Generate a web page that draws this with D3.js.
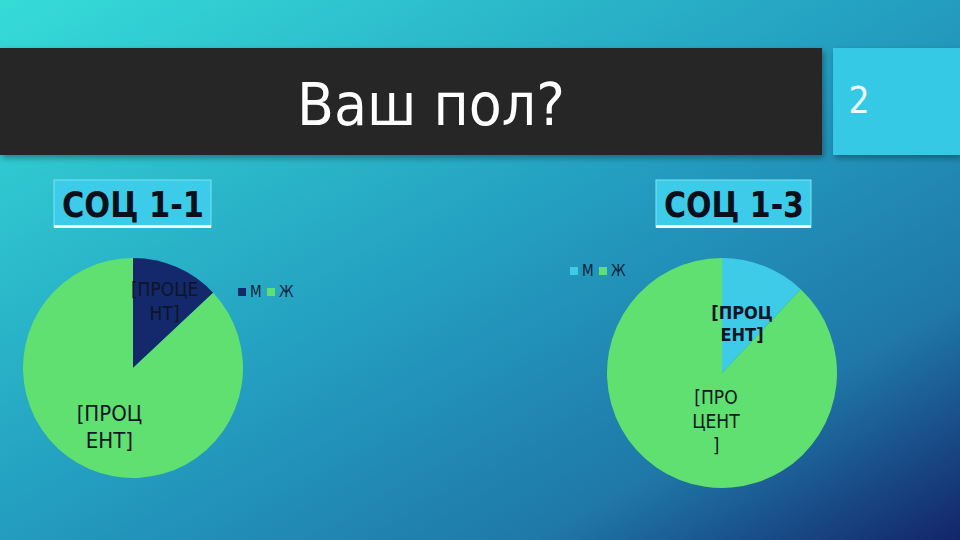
<!DOCTYPE html>
<html>
<head>
<meta charset="utf-8">
<style>
  body { margin: 0; background: #1f9fc0; }
  svg { display: block; }
  .narrow { font-family: "Liberation Sans Narrow", "DejaVu Sans Condensed", sans-serif; }
</style>
</head>
<body>
<svg class="slide"></svg>
<script src="https://d3js.org/d3.v7.min.js"></script>
<script>
// data
const categories = ["М", "Ж"];
const soc11 = [13, 87];
const soc13 = [12, 88];
// label text as wrapped in the picture
const soc11Labels = [["[ПРОЦЕ", "НТ]"], ["[ПРОЦ", "ЕНТ]"]];
const soc13Labels = [["[ПРОЦ", "ЕНТ]"], ["[ПРО", "ЦЕНТ", "]"]];

let width = 960, height = 540;
let svg = d3.select(".slide").attr("width", width).attr("height", height);

let defs = svg.append("defs");
let bg = defs.append("linearGradient").attr("id", "bg")
    .attr("x1", 0).attr("y1", 0).attr("x2", 1).attr("y2", 1);
bg.append("stop").attr("offset", 0).attr("stop-color", "#35dcd8");
bg.append("stop").attr("offset", 0.5).attr("stop-color", "#239cbf");
bg.append("stop").attr("offset", 0.78).attr("stop-color", "#1f78a8");
bg.append("stop").attr("offset", 1).attr("stop-color", "#13256a");

let shadow = defs.append("filter").attr("id", "shadow")
    .attr("x", "-5%").attr("y", "-10%").attr("width", "110%").attr("height", "130%");
shadow.append("feDropShadow").attr("dx", 2).attr("dy", 3).attr("stdDeviation", 3)
    .attr("flood-color", "#000").attr("flood-opacity", 0.35);

svg.append("rect").attr("width", width).attr("height", height).attr("fill", "url(#bg)");

// title bar
svg.append("rect").attr("x", 0).attr("y", 48).attr("width", 822).attr("height", 107)
    .attr("fill", "#262626").attr("filter", "url(#shadow)");
svg.append("rect").attr("x", 833).attr("y", 48).attr("width", 127).attr("height", 107)
    .attr("fill", "#34c9e6").attr("filter", "url(#shadow)");

svg.append("text").attr("class", "narrow")
    .attr("x", 297).attr("y", 125)
    .attr("textLength", 268).attr("lengthAdjust", "spacingAndGlyphs")
    .attr("font-size", 58).attr("fill", "#fff")
    .text("Ваш пол?");
svg.append("text").attr("class", "narrow")
    .attr("x", 859).attr("y", 113).attr("text-anchor", "middle")
    .attr("font-size", 37).attr("fill", "#eefbff")
    .text("2");

// subtitle boxes
function subtitle(x, w, label) {
    let g = svg.append("g");
    g.append("rect").attr("x", x).attr("y", 180).attr("width", w).attr("height", 47)
        .attr("fill", "#3ccbe9").attr("stroke", "#7fe3f3").attr("stroke-width", 1);
    g.append("rect").attr("x", x).attr("y", 225).attr("width", w).attr("height", 3)
        .attr("fill", "#f2fcff");
    g.append("text").attr("class", "narrow")
        .attr("x", x + 8).attr("y", 217)
        .attr("textLength", w - 15).attr("lengthAdjust", "spacingAndGlyphs")
        .attr("font-size", 35).attr("font-weight", "bold").attr("fill", "#0b0f1a")
        .text(label);
}
subtitle(54, 157, "СОЦ 1-1");
subtitle(656, 155, "СОЦ 1-3");

// pies
let pie = d3.pie().sort(null).value(d => d);

function drawPie(cx, cy, r, values, colors, labels, opts) {
    let g = svg.append("g").attr("transform", "translate(" + cx + "," + cy + ")");
    let arcs = pie(values);
    let arc = d3.arc().innerRadius(0).outerRadius(r);
    g.selectAll("path").data(arcs).join("path")
        .attr("d", arc)
        .attr("fill", (d, i) => colors[i]);

    arcs.forEach((d, i) => {
        let la = d3.arc().innerRadius(opts.labelR[i]).outerRadius(opts.labelR[i]);
        let c = la.centroid(d);
        c = [c[0] + opts.shift[i][0], c[1] + opts.shift[i][1]];
        let fs = opts.font[i];
        let lines = labels[i];
        let lh = fs * 1.25;
        let t = g.append("text").attr("class", "narrow")
            .attr("text-anchor", "middle")
            .attr("font-size", fs)
            .attr("font-weight", opts.bold[i] ? "bold" : "normal")
            .attr("fill", "#0d1626");
        lines.forEach((ln, j) => {
            t.append("tspan").attr("x", c[0])
                .attr("y", c[1] + (j - (lines.length - 1) / 2) * lh + fs * 0.35)
                .text(ln);
        });
    });
}

function drawLegend(x, y, colors) {
    let g = svg.append("g").attr("transform", "translate(" + x + "," + y + ")");
    let item = g.selectAll("g").data(categories).join("g")
        .attr("transform", (d, i) => "translate(" + (i * 29) + ",0)");
    item.append("rect").attr("x", 0).attr("y", -4).attr("width", 8).attr("height", 8)
        .attr("fill", (d, i) => colors[i]);
    item.append("text").attr("class", "narrow")
        .attr("x", 12).attr("y", 5)
        .attr("font-size", 15).attr("fill", "#13233a")
        .text(d => d);
}

let colors11 = ["#13296b", "#5fe070"];
let colors13 = ["#3dcbe8", "#5fe070"];

drawPie(133, 368, 110, soc11, colors11, soc11Labels, {
    labelR: [77, 62], shift: [[1, 4], [1, 2]], font: [19, 22], bold: [false, false]
});
drawLegend(238, 292, colors11);

drawPie(722, 373, 115, soc13, colors13, soc13Labels, {
    labelR: [49, 49], shift: [[2, -4], [12, 3]], font: [18, 19], bold: [true, false]
});
drawLegend(570, 271, colors13);
</script>
</body>
</html>
